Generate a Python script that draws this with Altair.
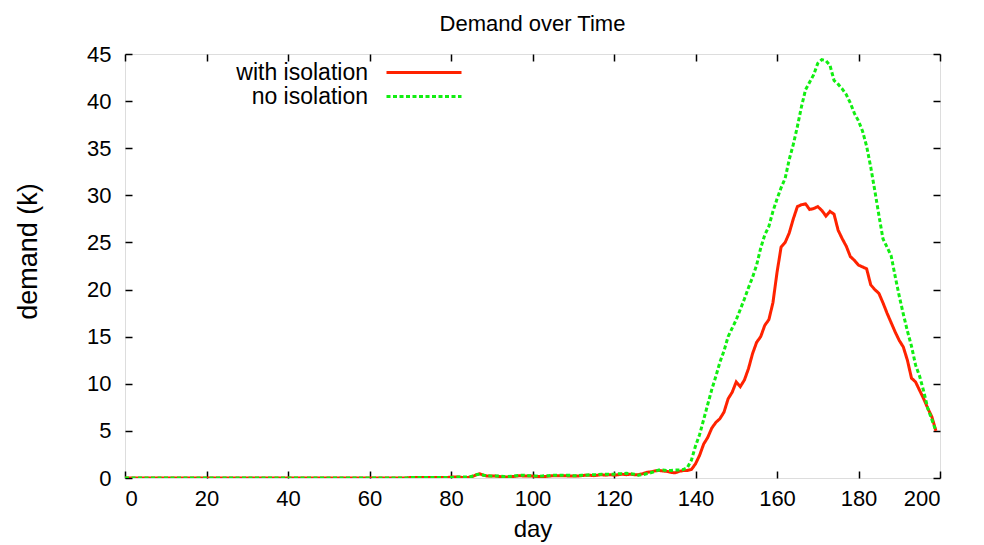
import altair as alt
import pandas as pd

days = list(range(200))

with_isolation = [
    0.0, 0.0, 0.0, 0.0, 0.0, 0.0, 0.0, 0.0, 0.0, 0.0,
    0.0, 0.0, 0.0, 0.0, 0.0, 0.0, 0.0, 0.0, 0.0, 0.0,
    0.0, 0.0, 0.0, 0.0, 0.0, 0.0, 0.0, 0.0, 0.0, 0.0,
    0.0, 0.0, 0.0, 0.0, 0.0, 0.0, 0.0, 0.0, 0.0, 0.0,
    0.0, 0.0, 0.0, 0.0, 0.0, 0.0, 0.0, 0.0, 0.0, 0.0,
    0.0, 0.0, 0.0, 0.0, 0.0, 0.0, 0.0, 0.0, 0.0, 0.0,
    0.0, 0.0, 0.0, 0.0, 0.0, 0.0, 0.0, 0.0, 0.0, 0.0,
    0.05, 0.05, 0.05, 0.05, 0.05, 0.05, 0.05, 0.05, 0.05, 0.05,
    0.1, 0.1, 0.1, 0.05, 0.05, 0.1, 0.3, 0.45, 0.3, 0.2,
    0.2, 0.2, 0.15, 0.1, 0.1, 0.15, 0.2, 0.25, 0.2, 0.2,
    0.2, 0.15, 0.15, 0.15, 0.2, 0.25, 0.25, 0.25, 0.25, 0.2,
    0.2, 0.2, 0.25, 0.3, 0.3, 0.25, 0.3, 0.35, 0.3, 0.35,
    0.3, 0.35, 0.4, 0.35, 0.4, 0.35, 0.35, 0.45, 0.6, 0.65,
    0.75, 0.8, 0.75, 0.7, 0.6, 0.55, 0.7, 0.8, 0.8, 0.9,
    1.5, 2.4, 3.6, 4.3, 5.3, 5.9, 6.3, 7.0, 8.4, 9.1,
    10.2, 9.7, 10.4, 11.6, 13.2, 14.4, 15.0, 16.2, 16.8, 18.6,
    21.8, 24.5, 25.0, 26.0, 27.5, 28.8, 29.0, 29.1, 28.5, 28.6,
    28.8, 28.4, 27.8, 28.3, 28.0, 26.3, 25.4, 24.6, 23.5, 23.1,
    22.6, 22.4, 22.2, 20.5, 20.0, 19.6, 18.6, 17.5, 16.5, 15.5,
    14.6, 13.9, 12.5, 10.6, 10.2, 9.3, 8.4, 7.4, 6.5, 5.0,
]

no_isolation = [
    0.0, 0.0, 0.0, 0.0, 0.0, 0.0, 0.0, 0.0, 0.0, 0.0,
    0.0, 0.0, 0.0, 0.0, 0.0, 0.0, 0.0, 0.0, 0.0, 0.0,
    0.0, 0.0, 0.0, 0.0, 0.0, 0.0, 0.0, 0.0, 0.0, 0.0,
    0.0, 0.0, 0.0, 0.0, 0.0, 0.0, 0.0, 0.0, 0.0, 0.0,
    0.0, 0.0, 0.0, 0.0, 0.0, 0.0, 0.0, 0.0, 0.0, 0.0,
    0.0, 0.0, 0.0, 0.0, 0.0, 0.0, 0.0, 0.0, 0.0, 0.0,
    0.0, 0.0, 0.0, 0.0, 0.0, 0.0, 0.0, 0.0, 0.0, 0.0,
    0.05, 0.05, 0.05, 0.05, 0.05, 0.05, 0.05, 0.05, 0.05, 0.05,
    0.05, 0.1, 0.1, 0.1, 0.1, 0.15, 0.35, 0.4, 0.3, 0.25,
    0.2, 0.2, 0.2, 0.15, 0.15, 0.2, 0.25, 0.3, 0.3, 0.25,
    0.25, 0.2, 0.2, 0.25, 0.25, 0.3, 0.3, 0.3, 0.3, 0.3,
    0.25, 0.25, 0.3, 0.3, 0.35, 0.35, 0.35, 0.4, 0.4, 0.4,
    0.4, 0.45, 0.45, 0.5, 0.45, 0.4, 0.3, 0.35, 0.45, 0.55,
    0.7, 0.85, 0.85, 0.8, 0.8, 0.85, 0.85, 0.9, 1.1, 1.9,
    3.4, 4.6, 6.2, 7.8, 9.4, 10.8, 12.3, 13.5, 15.0, 15.9,
    16.8, 17.9, 19.0, 20.2, 21.3, 22.6, 24.4, 25.8, 26.7, 28.3,
    29.6, 30.8, 31.8, 33.8, 35.4, 37.3, 39.4, 41.2, 42.0, 42.8,
    44.0, 44.4, 44.3, 43.8, 42.2, 41.8, 41.3, 40.7, 39.8, 38.7,
    37.9, 36.8, 35.2, 33.0, 30.5, 27.9, 25.4, 24.5, 23.6, 21.4,
    19.3, 17.4, 15.6, 14.0, 12.0, 10.8, 9.2, 7.4, 6.2, 5.0,
]

series_names = ["with isolation", "no isolation"]
series_colors = ["#ff2200", "#11ee11"]
series_dashes = [[1, 0], [4, 2.5]]
x_ticks = [0, 20, 40, 60, 80, 100, 120, 140, 160, 180, 200]
y_ticks = [0, 5, 10, 15, 20, 25, 30, 35, 40, 45]

df = pd.DataFrame({
    "day": days + days,
    "demand": with_isolation + no_isolation,
    "series": [series_names[0]] * len(days) + [series_names[1]] * len(days),
})

FONT = "Liberation Sans"

legend = alt.Legend(
    title=None,
    orient="none",
    legendX=287.5,
    legendY=7,
    symbolType="M-7.5,0H7.5",
    symbolSize=100,
    symbolStrokeWidth=3,
    labelAlign="right",
    labelOffset={"expr": "-67.5"},
    labelFont=FONT,
    labelFontSize=23,
    labelColor="#000000",
    rowPadding={"expr": "-3"},
    padding=0,
    labelLimit=400,
)

xs = alt.Scale(domain=[0, 200], nice=False, zero=False)
ys = alt.Scale(domain=[0, 45], nice=False)

lines = alt.Chart(df).mark_line(strokeWidth=3, clip=True).encode(
    x=alt.X("day:Q", scale=xs, axis=alt.Axis(
        values=x_ticks, offset=-7, tickSize=7, domain=False, grid=False,
        labelPadding=10, labelFontSize=22, labelFont=FONT, labelColor="#000",
        tickColor="#000", tickWidth=1.5, title="day", titleFont=FONT,
        titleFontSize=24, titleFontWeight="normal", titleColor="#000",
        titleY=65, titleBaseline="alphabetic")),
    y=alt.Y("demand:Q", scale=ys, axis=alt.Axis(
        values=y_ticks, offset=-7, tickSize=7, domain=False, grid=False,
        labelPadding=14, labelFontSize=22, labelFont=FONT, labelColor="#000",
        tickColor="#000", tickWidth=1.5, title="demand (k)", titleFont=FONT,
        titleFontSize=27, titleFontWeight="normal", titleColor="#000",
        titleX=-90, titleY=197)),
    color=alt.Color("series:N", scale=alt.Scale(domain=series_names, range=series_colors), legend=legend),
    strokeDash=alt.StrokeDash("series:N", scale=alt.Scale(domain=series_names, range=series_dashes), legend=legend),
    order=alt.Order("day:Q"),
)

mirror = alt.Chart(df).mark_line(opacity=0).encode(
    x=alt.X("day:Q", scale=xs, axis=alt.Axis(
        orient="top", values=x_ticks, offset=-7, tickSize=7, domain=False,
        grid=False, labels=False, title=None, tickColor="#000", tickWidth=1.5)),
    y=alt.Y("demand:Q", scale=ys, axis=alt.Axis(
        orient="right", values=y_ticks, offset=-7, tickSize=7, domain=False,
        grid=False, labels=False, title=None, tickColor="#000", tickWidth=1.5)),
)

chart = alt.layer(lines, mirror).resolve_scale(
    x="independent", y="independent"
).properties(
    width=815,
    height=424,
    title=alt.TitleParams("Demand over Time", font=FONT, fontSize=22,
                          fontWeight="normal", color="#000", anchor="middle",
                          baseline="alphabetic", offset=-10),
    autosize=alt.AutoSizeParams(type="none"),
    padding={"left": 117, "top": 46, "right": 30, "bottom": 66},
).configure_view(
    stroke="#000", strokeWidth=1.5
).configure(background="#ffffff")

chart.save("out.html", embed_options={"renderer": "svg", "actions": False})
